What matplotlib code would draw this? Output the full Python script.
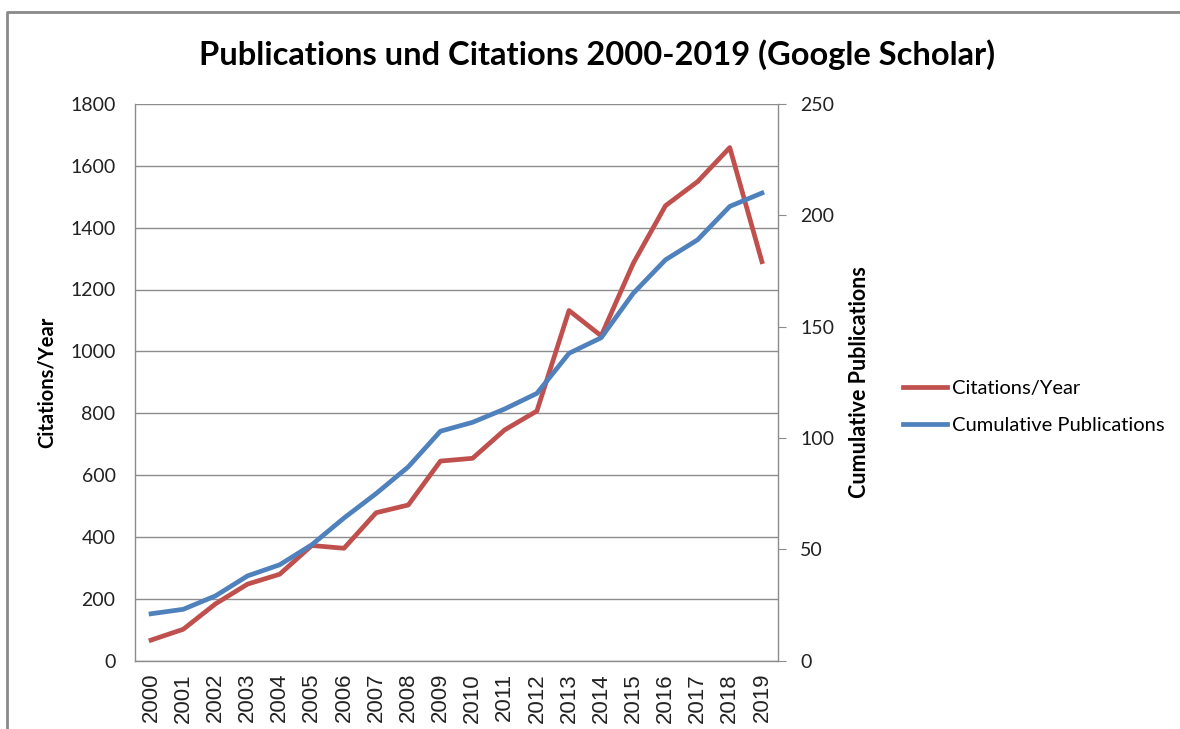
import matplotlib
matplotlib.use("Agg")
import matplotlib.pyplot as plt
from matplotlib.lines import Line2D

years = [str(y) for y in range(2000, 2020)]
citations = [66, 101, 183, 247, 279, 372, 363, 478, 503, 645, 654, 746, 807, 1132,
             1050, 1285, 1471, 1549, 1659, 1290]
cum_pubs = [21, 23, 29, 38, 43, 52, 64, 75, 87, 103, 107, 113, 120, 138,
            145, 165, 180, 189, 204, 210]
left_ticks = list(range(0, 2000, 200))
right_ticks = list(range(0, 300, 50))

RED = "#C0504D"
BLUE = "#4F81BD"
GRID = "#8C8C8C"
LABEL_FONT = ["Lato", "DejaVu Sans"]
YEAR_FONT = ["Liberation Sans", "DejaVu Sans"]

fig = plt.figure(figsize=(11.8, 7.29), dpi=100)
ax = fig.add_axes([135/1180, 1-660.5/729, (778-135)/1180, (660.5-104)/729])
ax2 = ax.twinx()

x = list(range(len(years)))
l1, = ax.plot(x, citations, color=RED, lw=3.4, solid_joinstyle="round", zorder=3)
l2, = ax2.plot(x, cum_pubs, color=BLUE, lw=3.4, solid_joinstyle="round", zorder=3)

ax.set_xlim(-0.5, len(years)-0.5)
ax.set_ylim(0, 1800)
ax2.set_ylim(0, 250)
ax.set_yticks(left_ticks)
ax2.set_yticks(right_ticks)
ax.set_xticks(x)
ax.set_xticklabels(years, rotation=90, fontsize=16, family=YEAR_FONT, color="#222222")
ax.set_yticklabels([str(t) for t in left_ticks], fontsize=14, family=LABEL_FONT, color="#222222")
ax2.set_yticklabels([str(t) for t in right_ticks], fontsize=14, family=LABEL_FONT, color="#222222")

ax.grid(axis="y", color=GRID, lw=1)
ax.set_axisbelow(True)
ax.tick_params(axis="y", length=0, pad=14)
ax.tick_params(axis="x", length=0, pad=9)
ax2.tick_params(axis="y", length=6, color=GRID, direction="out", pad=10)

for a in (ax, ax2):
    a.spines["top"].set_visible(False)
    for s in ("left", "right", "bottom"):
        a.spines[s].set_color(GRID)
        a.spines[s].set_linewidth(1)
ax.spines["right"].set_visible(False)
ax2.spines["left"].set_visible(False)
ax2.spines["bottom"].set_visible(False)

ax.set_ylabel("Citations/Year", fontsize=14.5, fontweight="bold", family=LABEL_FONT, labelpad=10)
ax2.set_ylabel("Cumulative Publications", fontsize=15.5, fontweight="bold", family=LABEL_FONT, labelpad=11)

fig.text(597/1180, 1-55/729, "Publications und Citations 2000-2019 (Google Scholar)",
         ha="center", va="center", fontsize=23.5, fontweight="bold", family=LABEL_FONT)

fig.legend([l1, l2], ["Citations/Year", "Cumulative Publications"],
           loc="center left", bbox_to_anchor=(903/1180, 1-407/729), frameon=False,
           borderpad=0, borderaxespad=0, handlelength=2.2, handletextpad=0.25,
           labelspacing=0.95, prop={"family": LABEL_FONT, "size": 14.5})

fig.add_artist(Line2D([7/1180, 7/1180, 1], [0, 1-12/729, 1-12/729],
                      transform=fig.transFigure, color="#8A8A8A", lw=2))

fig.savefig("out.png", dpi=100)
